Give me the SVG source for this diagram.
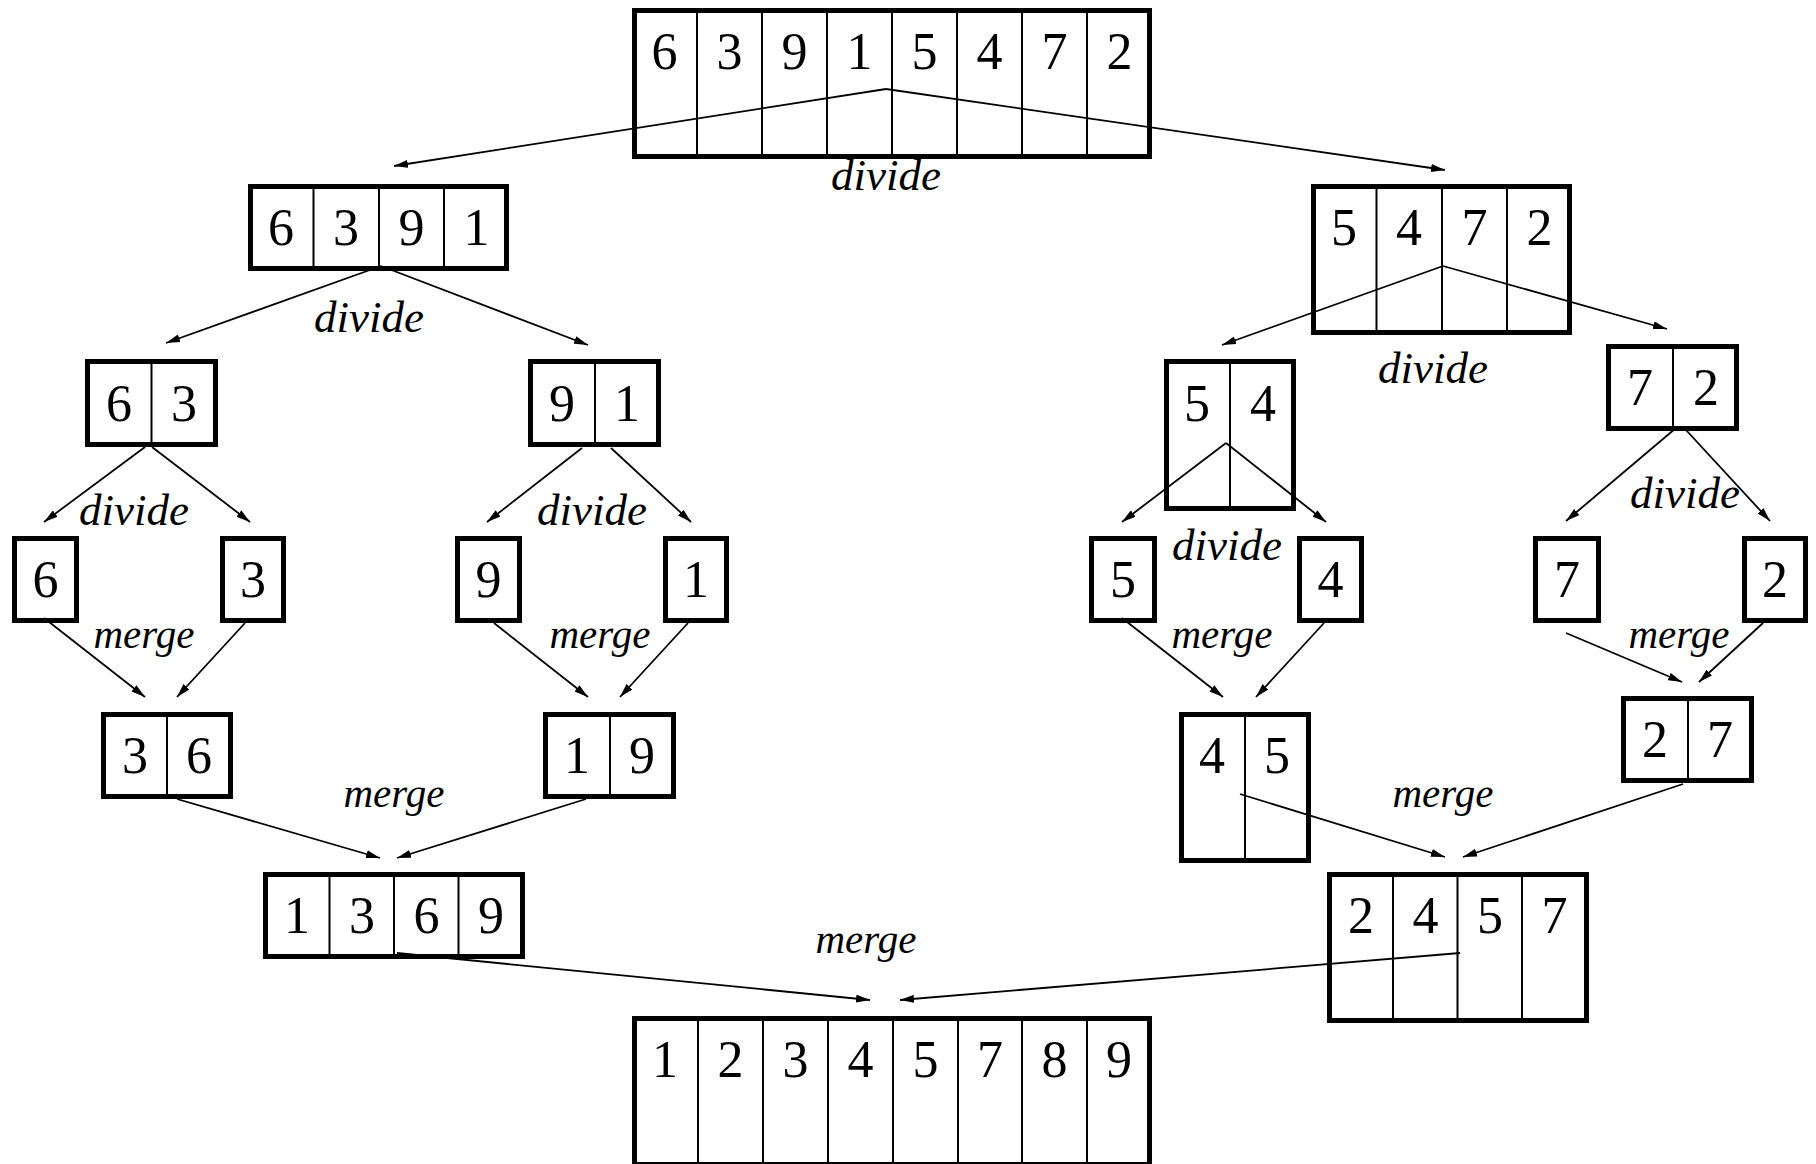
<svg xmlns="http://www.w3.org/2000/svg" width="1816" height="1164" viewBox="0 0 1816 1164">
<style>
.box{fill:#fff;stroke:#000;stroke-width:5}
.dv{stroke:#000;stroke-width:2}
.d{font-family:"Liberation Serif","Times New Roman",serif;font-size:52px;text-anchor:middle;fill:#000}
.lb{font-family:"Liberation Serif","Times New Roman",serif;font-style:italic;text-anchor:middle;fill:#000}
.dvd{font-size:45px}
.mrg{font-size:41px}
.c line{stroke:#000;stroke-width:1.8;marker-end:url(#ah)}
</style>
<defs>
<marker id="ah" viewBox="0 0 14 8" refX="14" refY="4" markerWidth="14" markerHeight="8" orient="auto" markerUnits="userSpaceOnUse"><path d="M0,0 L14,4 L0,8 z" fill="#000"/></marker>
</defs>
<rect width="1816" height="1164" fill="#fff"/>

<g id="n-top">
<rect class="box" x="634.5" y="10.5" width="515" height="146"/>
<path class="dv" d="M697,10V157M762,10V157M827,10V157M892,10V157M957,10V157M1022,10V157M1087,10V157"/>
<text class="d" x="664.5" y="69">6</text><text class="d" x="729.5" y="69">3</text><text class="d" x="794.5" y="69">9</text><text class="d" x="859.5" y="69">1</text><text class="d" x="924.5" y="69">5</text><text class="d" x="989.5" y="69">4</text><text class="d" x="1054.5" y="69">7</text><text class="d" x="1119.5" y="69">2</text>
</g>

<g id="n-6391">
<rect class="box" x="250.5" y="186.5" width="256" height="82"/>
<path class="dv" d="M313.5,186V269M379,186V269M444,186V269"/>
<text class="d" x="281" y="245">6</text><text class="d" x="346" y="245">3</text><text class="d" x="411.5" y="245">9</text><text class="d" x="476.5" y="245">1</text>
</g>

<g id="n-5472">
<rect class="box" x="1313.5" y="186.5" width="256" height="146"/>
<path class="dv" d="M1376.5,186V333M1442,186V333M1507,186V333"/>
<text class="d" x="1344" y="245">5</text><text class="d" x="1409" y="245">4</text><text class="d" x="1474.5" y="245">7</text><text class="d" x="1539.5" y="245">2</text>
</g>

<g id="n-63">
<rect class="box" x="87.5" y="361.5" width="128" height="83"/>
<path class="dv" d="M151.5,361V445"/>
<text class="d" x="119" y="421">6</text><text class="d" x="184" y="421">3</text>
</g>

<g id="n-91">
<rect class="box" x="530.5" y="361.5" width="128" height="83"/>
<path class="dv" d="M595,361V445"/>
<text class="d" x="562" y="421">9</text><text class="d" x="627" y="421">1</text>
</g>

<g id="n-54">
<rect class="box" x="1166.5" y="361.5" width="127" height="147"/>
<path class="dv" d="M1230,361V509"/>
<text class="d" x="1197" y="421">5</text><text class="d" x="1263" y="421">4</text>
</g>

<g id="n-72">
<rect class="box" x="1608.5" y="346.5" width="128" height="82"/>
<path class="dv" d="M1673,346V429"/>
<text class="d" x="1640" y="405">7</text><text class="d" x="1706" y="405">2</text>
</g>

<g id="n-6"><rect class="box" x="14.5" y="538.5" width="62" height="82"/><text class="d" x="45.5" y="597">6</text></g>
<g id="n-3"><rect class="box" x="222.5" y="538.5" width="61" height="82"/><text class="d" x="253" y="597">3</text></g>
<g id="n-9"><rect class="box" x="457.5" y="538.5" width="62" height="82"/><text class="d" x="488.5" y="597">9</text></g>
<g id="n-1"><rect class="box" x="665.5" y="538.5" width="61" height="82"/><text class="d" x="696" y="597">1</text></g>
<g id="n-5"><rect class="box" x="1091.5" y="538.5" width="63" height="82"/><text class="d" x="1123" y="597">5</text></g>
<g id="n-4"><rect class="box" x="1299.5" y="538.5" width="62" height="82"/><text class="d" x="1330.5" y="597">4</text></g>
<g id="n-7"><rect class="box" x="1535.5" y="538.5" width="63" height="82"/><text class="d" x="1567" y="597">7</text></g>
<g id="n-2"><rect class="box" x="1744.5" y="538.5" width="61" height="82"/><text class="d" x="1775" y="597">2</text></g>

<g id="n-36">
<rect class="box" x="103.5" y="714.5" width="127" height="82"/>
<path class="dv" d="M167,714V797"/>
<text class="d" x="135" y="773">3</text><text class="d" x="199" y="773">6</text>
</g>

<g id="n-19">
<rect class="box" x="545.5" y="714.5" width="128" height="82"/>
<path class="dv" d="M610,714V797"/>
<text class="d" x="577" y="773">1</text><text class="d" x="642" y="773">9</text>
</g>

<g id="n-45">
<rect class="box" x="1181.5" y="714.5" width="127" height="146"/>
<path class="dv" d="M1245,714V861"/>
<text class="d" x="1212" y="773">4</text><text class="d" x="1277" y="773">5</text>
</g>

<g id="n-27">
<rect class="box" x="1623.5" y="698.5" width="128" height="82"/>
<path class="dv" d="M1688,698V781"/>
<text class="d" x="1655" y="757">2</text><text class="d" x="1720" y="757">7</text>
</g>

<g id="n-1369">
<rect class="box" x="265.5" y="874.5" width="257" height="82"/>
<path class="dv" d="M329.5,874V957M394,874V957M458.5,874V957"/>
<text class="d" x="297" y="933">1</text><text class="d" x="362" y="933">3</text><text class="d" x="426.5" y="933">6</text><text class="d" x="491" y="933">9</text>
</g>

<g id="n-2457">
<rect class="box" x="1329.5" y="874.5" width="257" height="146"/>
<path class="dv" d="M1393,874V1021M1457.5,874V1021M1522,874V1021"/>
<text class="d" x="1361" y="933">2</text><text class="d" x="1425.5" y="933">4</text><text class="d" x="1490" y="933">5</text><text class="d" x="1554.5" y="933">7</text>
</g>

<g id="n-bottom">
<rect class="box" x="634.5" y="1018.5" width="515" height="146"/>
<path class="dv" d="M698,1018V1164M763,1018V1164M828,1018V1164M893,1018V1164M958,1018V1164M1022,1018V1164M1087,1018V1164"/>
<text class="d" x="665" y="1077">1</text><text class="d" x="730.5" y="1077">2</text><text class="d" x="795.5" y="1077">3</text><text class="d" x="860.5" y="1077">4</text><text class="d" x="925.5" y="1077">5</text><text class="d" x="990" y="1077">7</text><text class="d" x="1054.5" y="1077">8</text><text class="d" x="1119" y="1077">9</text>
</g>

<g id="connectors" class="c">
<line x1="886" y1="89" x2="394" y2="166"/>
<line x1="886" y1="89" x2="1445" y2="170"/>
<line x1="381" y1="266" x2="166" y2="343"/>
<line x1="381" y1="266" x2="588" y2="345"/>
<line x1="1443" y1="266" x2="1222" y2="345"/>
<line x1="1443" y1="266" x2="1667" y2="329"/>
<line x1="145" y1="447" x2="44" y2="522"/>
<line x1="152" y1="447" x2="250" y2="522"/>
<line x1="582" y1="448" x2="487" y2="522"/>
<line x1="611" y1="448" x2="691" y2="522"/>
<line x1="1226" y1="443" x2="1122" y2="522"/>
<line x1="1226" y1="443" x2="1326" y2="522"/>
<line x1="1676" y1="428" x2="1566" y2="521"/>
<line x1="1686" y1="430" x2="1770" y2="521"/>
<line x1="44" y1="618" x2="145" y2="697"/>
<line x1="245" y1="623" x2="177" y2="697"/>
<line x1="494" y1="623" x2="588" y2="697"/>
<line x1="688" y1="623" x2="620" y2="697"/>
<line x1="1122" y1="618" x2="1223" y2="697"/>
<line x1="1324" y1="623" x2="1256" y2="697"/>
<line x1="1566" y1="633" x2="1682" y2="682"/>
<line x1="1763" y1="623" x2="1699" y2="682"/>
<line x1="177" y1="799" x2="380" y2="858"/>
<line x1="586" y1="799" x2="397" y2="858"/>
<line x1="1240" y1="794" x2="1445" y2="857"/>
<line x1="1683" y1="784" x2="1463" y2="857"/>
<line x1="397" y1="953" x2="870" y2="1000"/>
<line x1="1460" y1="953" x2="900" y2="1000"/>
</g>

<g id="labels">
<text class="lb dvd" x="886" y="190">divide</text>
<text class="lb dvd" x="369" y="332">divide</text>
<text class="lb dvd" x="1433" y="383">divide</text>
<text class="lb dvd" x="134" y="525">divide</text>
<text class="lb dvd" x="592" y="525">divide</text>
<text class="lb dvd" x="1227" y="560">divide</text>
<text class="lb dvd" x="1685" y="508">divide</text>
<text class="lb mrg" x="144" y="648">merge</text>
<text class="lb mrg" x="600" y="648">merge</text>
<text class="lb mrg" x="1222" y="648">merge</text>
<text class="lb mrg" x="1679" y="648">merge</text>
<text class="lb mrg" x="394" y="807">merge</text>
<text class="lb mrg" x="1443" y="807">merge</text>
<text class="lb mrg" x="866" y="953">merge</text>
</g>
</svg>
